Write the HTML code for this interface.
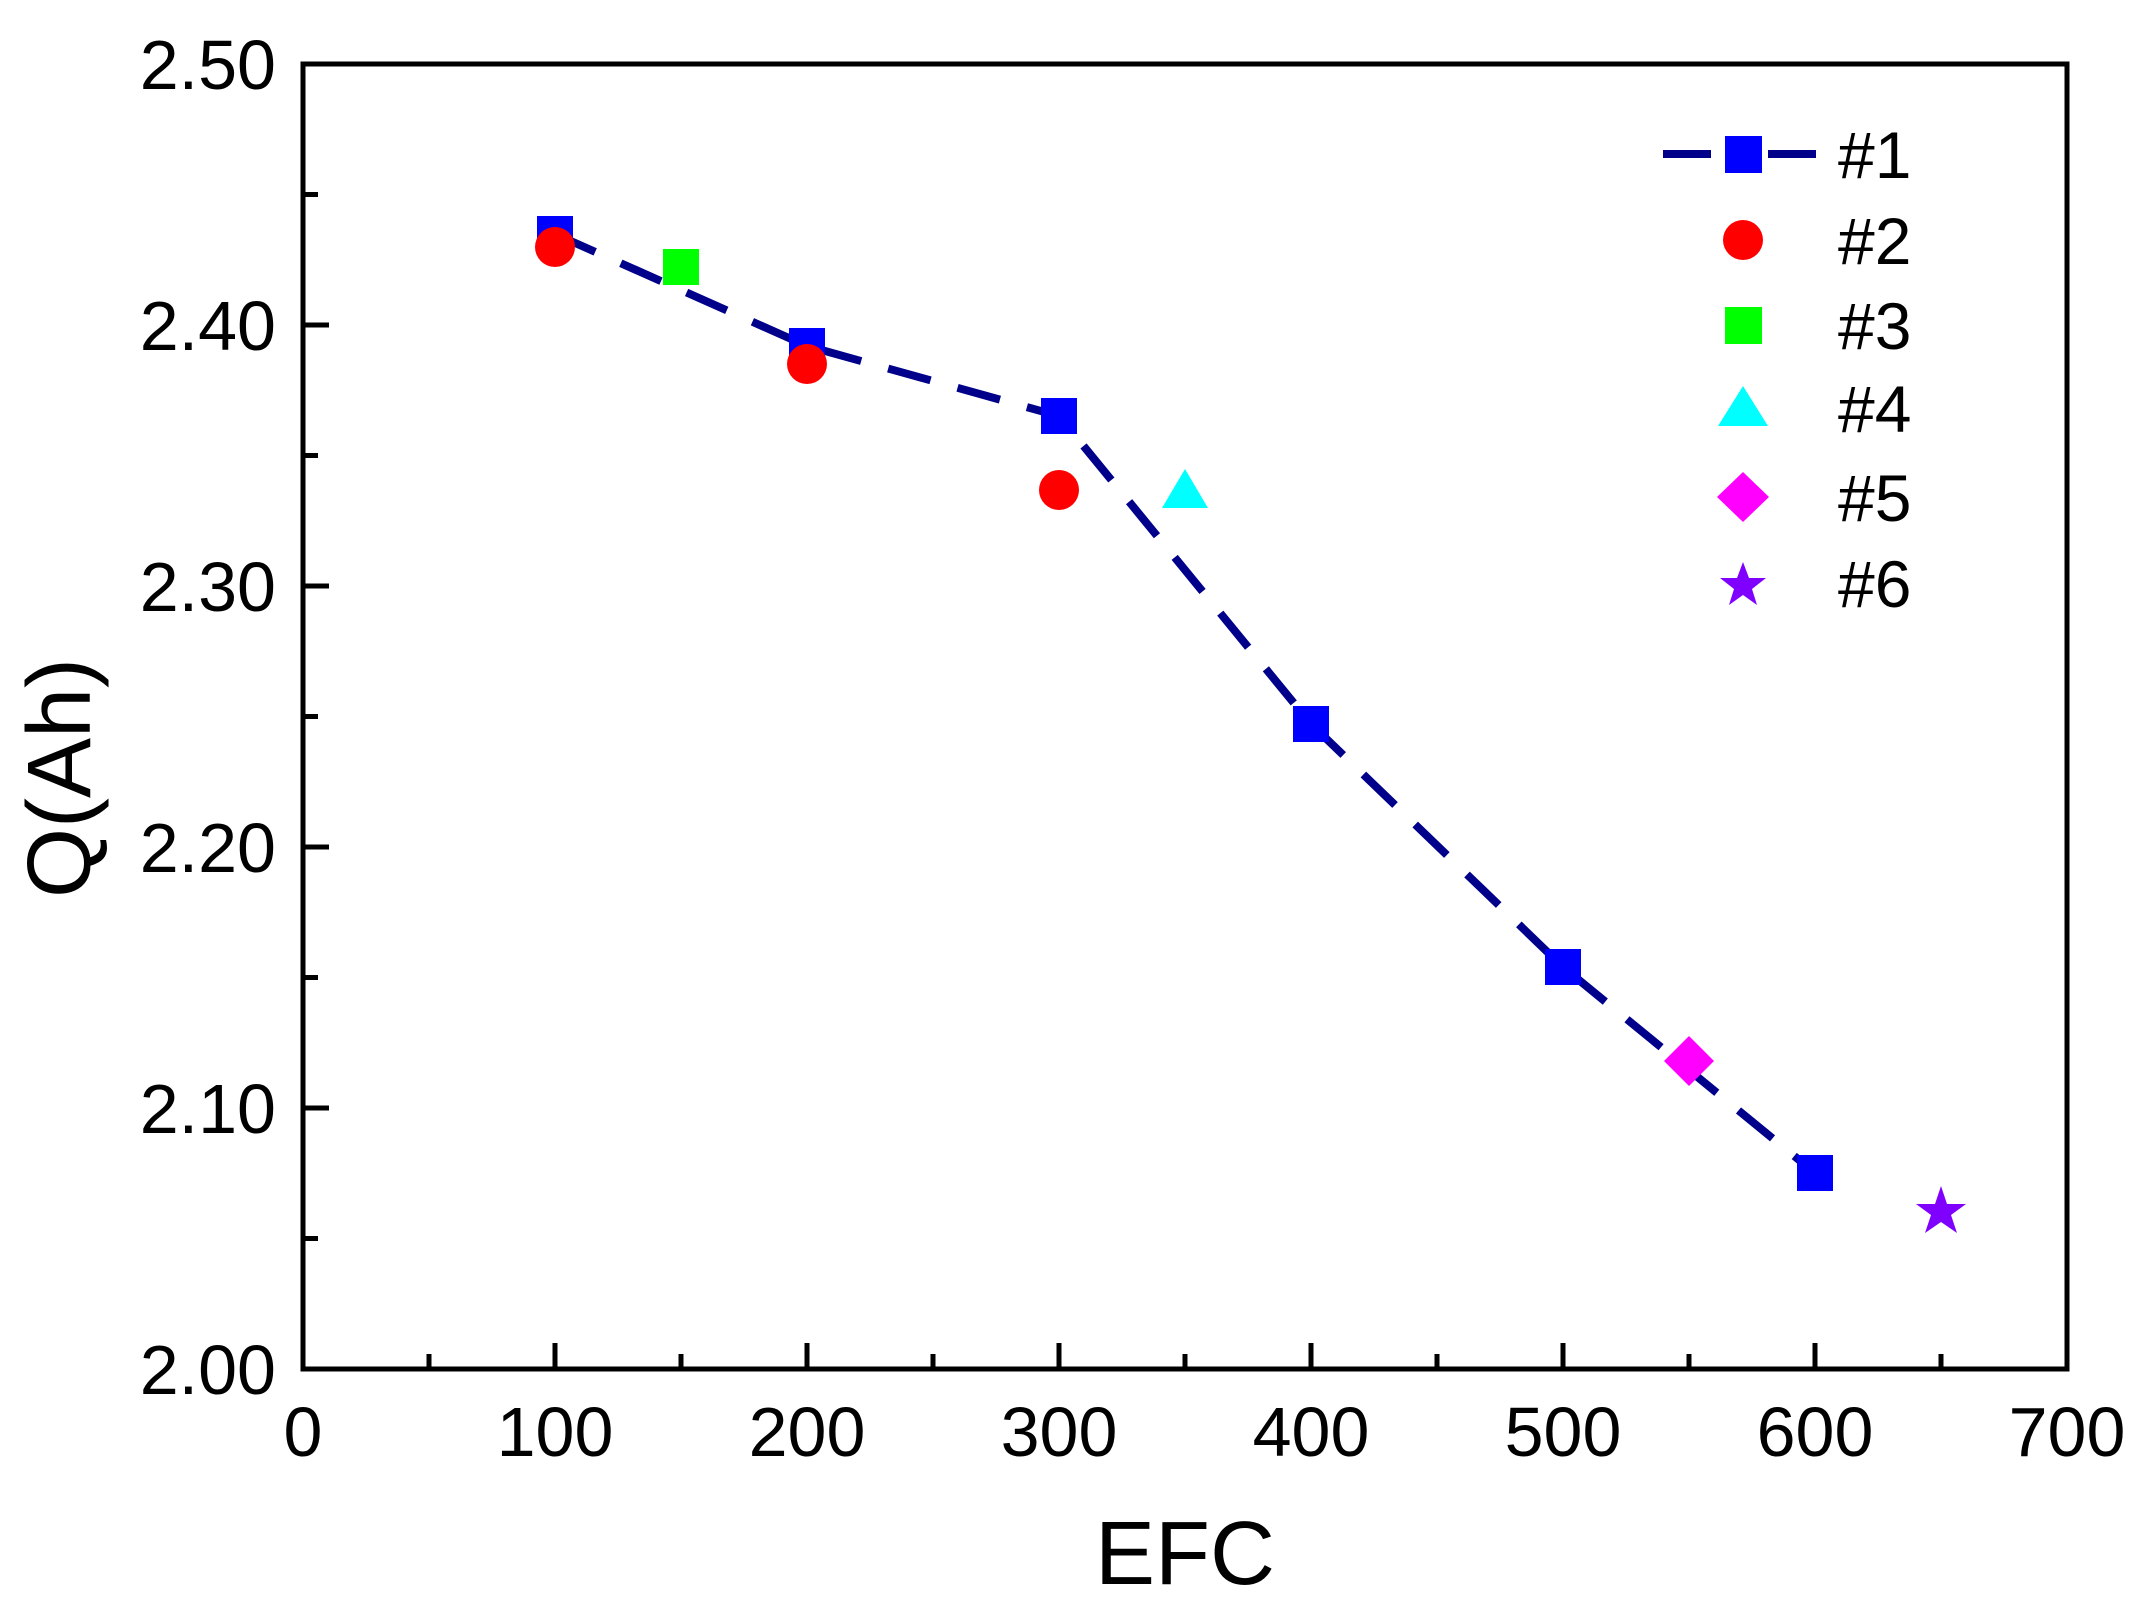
<!DOCTYPE html>
<html><head><meta charset="utf-8"><style>
html,body{margin:0;padding:0;background:#fff;}
svg{display:block;}
text{font-family:"Liberation Sans",Arial,sans-serif;fill:#000;}
</style></head><body>
<svg width="2141" height="1616" viewBox="0 0 2141 1616" xmlns="http://www.w3.org/2000/svg">
<rect width="2141" height="1616" fill="#fff"/>
<rect x="303" y="64" width="1764" height="1305" fill="none" stroke="#000" stroke-width="5"/>
<g stroke="#000" stroke-width="5">
<line x1="555" y1="1369" x2="555" y2="1343"/>
<line x1="807" y1="1369" x2="807" y2="1343"/>
<line x1="1059" y1="1369" x2="1059" y2="1343"/>
<line x1="1311" y1="1369" x2="1311" y2="1343"/>
<line x1="1563" y1="1369" x2="1563" y2="1343"/>
<line x1="1815" y1="1369" x2="1815" y2="1343"/>
<line x1="429" y1="1369" x2="429" y2="1354"/>
<line x1="681" y1="1369" x2="681" y2="1354"/>
<line x1="933" y1="1369" x2="933" y2="1354"/>
<line x1="1185" y1="1369" x2="1185" y2="1354"/>
<line x1="1437" y1="1369" x2="1437" y2="1354"/>
<line x1="1689" y1="1369" x2="1689" y2="1354"/>
<line x1="1941" y1="1369" x2="1941" y2="1354"/>
<line x1="303" y1="325" x2="329" y2="325"/>
<line x1="303" y1="586" x2="329" y2="586"/>
<line x1="303" y1="847" x2="329" y2="847"/>
<line x1="303" y1="1108" x2="329" y2="1108"/>
<line x1="303" y1="194.5" x2="318" y2="194.5"/>
<line x1="303" y1="455.5" x2="318" y2="455.5"/>
<line x1="303" y1="716.5" x2="318" y2="716.5"/>
<line x1="303" y1="977.5" x2="318" y2="977.5"/>
<line x1="303" y1="1238.5" x2="318" y2="1238.5"/>
</g>
<g font-size="70" text-anchor="end">
<text x="276" y="89">2.50</text>
<text x="276" y="350">2.40</text>
<text x="276" y="611">2.30</text>
<text x="276" y="872">2.20</text>
<text x="276" y="1133">2.10</text>
<text x="276" y="1394">2.00</text>
</g>
<g font-size="70" text-anchor="middle">
<text x="303" y="1456">0</text>
<text x="555" y="1456">100</text>
<text x="807" y="1456">200</text>
<text x="1059" y="1456">300</text>
<text x="1311" y="1456">400</text>
<text x="1563" y="1456">500</text>
<text x="1815" y="1456">600</text>
<text x="2067" y="1456">700</text>
</g>
<text x="1185" y="1584" font-size="90" text-anchor="middle">EFC</text>
<text transform="translate(90,778) rotate(-90)" font-size="90" text-anchor="middle">Q(Ah)</text>
<polyline points="555,234 807,346 1059,416 1311,724 1563,967 1815,1173" fill="none" stroke="#00008b" stroke-width="8" stroke-dasharray="44,28"/>
<g fill="#0000ff">
<rect x="537" y="216" width="36" height="36"/>
<rect x="789" y="328" width="36" height="36"/>
<rect x="1041" y="398" width="36" height="36"/>
<rect x="1293" y="706" width="36" height="36"/>
<rect x="1545" y="949" width="36" height="36"/>
<rect x="1797" y="1155" width="36" height="36"/>
</g>
<g fill="#ff0000">
<circle cx="555" cy="247" r="20"/>
<circle cx="807" cy="364" r="20"/>
<circle cx="1059" cy="490" r="20"/>
</g>
<rect x="663" y="249" width="36" height="36" fill="#00ff00"/>
<polygon points="1185,469 1208,508 1162,508" fill="#00ffff"/>
<polygon points="1689,1036 1714,1061 1689,1086 1664,1061" fill="#ff00ff"/>
<polygon points="1941,1186 1947,1204 1966,1204 1951,1215 1957,1233 1941,1222 1925,1233 1931,1215 1916,1204 1935,1204" fill="#8000ff"/>
<line x1="1663" y1="154" x2="1816" y2="154" stroke="#00008b" stroke-width="8" stroke-dasharray="48,57"/>
<rect x="1725" y="136" width="37" height="37" fill="#0000ff"/>
<circle cx="1743" cy="240" r="20" fill="#ff0000"/>
<rect x="1725" y="307" width="37" height="37" fill="#00ff00"/>
<polygon points="1743,386 1768,426 1718,426" fill="#00ffff"/>
<polygon points="1743,472 1769,497 1743,522 1717,497" fill="#ff00ff"/>
<polygon points="1743,562 1749,578 1766,578 1752,589 1757,605 1743,595 1729,605 1734,589 1720,578 1737,578" fill="#8000ff"/>
<g font-size="66">
<text x="1838" y="178">#1</text>
<text x="1838" y="264">#2</text>
<text x="1838" y="349">#3</text>
<text x="1838" y="432">#4</text>
<text x="1838" y="521">#5</text>
<text x="1838" y="607">#6</text>
</g>
</svg>
</body></html>
